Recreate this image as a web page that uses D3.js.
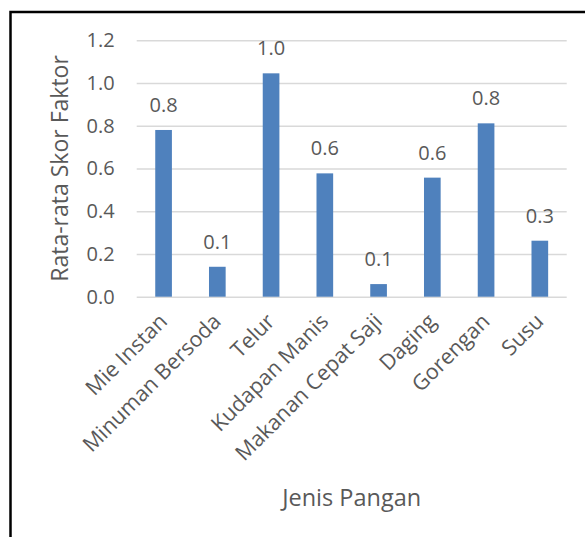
<!DOCTYPE html>
<html>
<head>
<meta charset="utf-8">
<script src="https://cdn.jsdelivr.net/npm/d3@7"></script>
<style>
  html, body { margin: 0; padding: 0; background: #ffffff; }
  svg { display: block; }
  text { font-family: "Open Sans", "Noto Sans", sans-serif; fill: #595959; }
</style>
</head>
<body>
<svg id="chart" width="585" height="537"></svg>
<script>
// Food categories and their mean factor scores
const categories = ["Mie Instan", "Minuman Bersoda", "Telur", "Kudapan Manis",
                    "Makanan Cepat Saji", "Daging", "Gorengan", "Susu"];
const scores = [0.78, 0.14, 1.045, 0.577, 0.059, 0.557, 0.811, 0.262];
const yTicks = [0, 0.2, 0.4, 0.6, 0.8, 1.0, 1.2];
const xTitle = "Jenis Pangan";
const yTitle = "Rata-rata Skor Faktor";

const svg = d3.select("#chart");

// outer frame
svg.append("rect")
  .attr("x", 10.5).attr("y", 12)
  .attr("width", 600).attr("height", 560)
  .attr("fill", "none").attr("stroke", "#000").attr("stroke-width", 2.5);

const plot = { left: 136.7, right: 566.7, top: 40.2, bottom: 296.7 };

const x = d3.scaleBand()
  .domain(categories)
  .range([plot.left, plot.right])
  .paddingInner(0.69)
  .paddingOuter(0.345);

const y = d3.scaleLinear()
  .domain([0, 1.2])
  .range([plot.bottom, plot.top]);

// horizontal gridlines with tick labels
const yAxis = d3.axisLeft(y)
  .tickValues(yTicks)
  .tickFormat(d3.format(".1f"))
  .tickSize(-(plot.right - plot.left))
  .tickPadding(22);

const gy = svg.append("g")
  .attr("transform", `translate(${plot.left},0)`)
  .call(yAxis);
gy.select(".domain").remove();
gy.selectAll(".tick line").attr("stroke", "#d9d9d9").attr("stroke-width", 1.5);
gy.selectAll(".tick text")
  .attr("fill", "#595959")
  .style("font-size", "20px")
  .style("font-family", "'Open Sans', sans-serif");

// bars
svg.append("g").selectAll("rect")
  .data(categories)
  .join("rect")
  .attr("x", d => x(d))
  .attr("width", x.bandwidth())
  .attr("y", (d, i) => y(scores[i]))
  .attr("height", (d, i) => y(0) - y(scores[i]))
  .attr("fill", "#4f81bd");

// value labels above bars
const fmt = d3.format(".1f");
svg.append("g").selectAll("text")
  .data(categories)
  .join("text")
  .attr("x", d => x(d) + x.bandwidth() / 2)
  .attr("y", (d, i) => y(scores[i]) - 18)
  .attr("text-anchor", "middle")
  .style("font-size", "20px")
  .text((d, i) => fmt(scores[i]));

// rotated category labels
const xAxis = d3.axisBottom(x).tickSize(0).tickPadding(0);
const gx = svg.append("g")
  .attr("transform", `translate(0,${plot.bottom})`)
  .call(xAxis);
gx.select(".domain").remove();
gx.selectAll(".tick text")
  .attr("fill", "#595959")
  .style("font-size", "21.5px")
  .style("font-family", "'Open Sans', sans-serif")
  .attr("text-anchor", "end")
  .attr("y", 0).attr("dy", 0)
  .attr("transform", "translate(5,26) rotate(-45)");

// axis titles
svg.append("text")
  .attr("x", (plot.left + plot.right) / 2)
  .attr("y", 506)
  .attr("text-anchor", "middle")
  .style("font-size", "23.5px")
  .text(xTitle);

svg.append("text")
  .attr("transform", `translate(68,${(plot.top + plot.bottom) / 2}) rotate(-90)`)
  .attr("text-anchor", "middle")
  .style("font-size", "23px")
  .text(yTitle);
</script>
</body>
</html>
